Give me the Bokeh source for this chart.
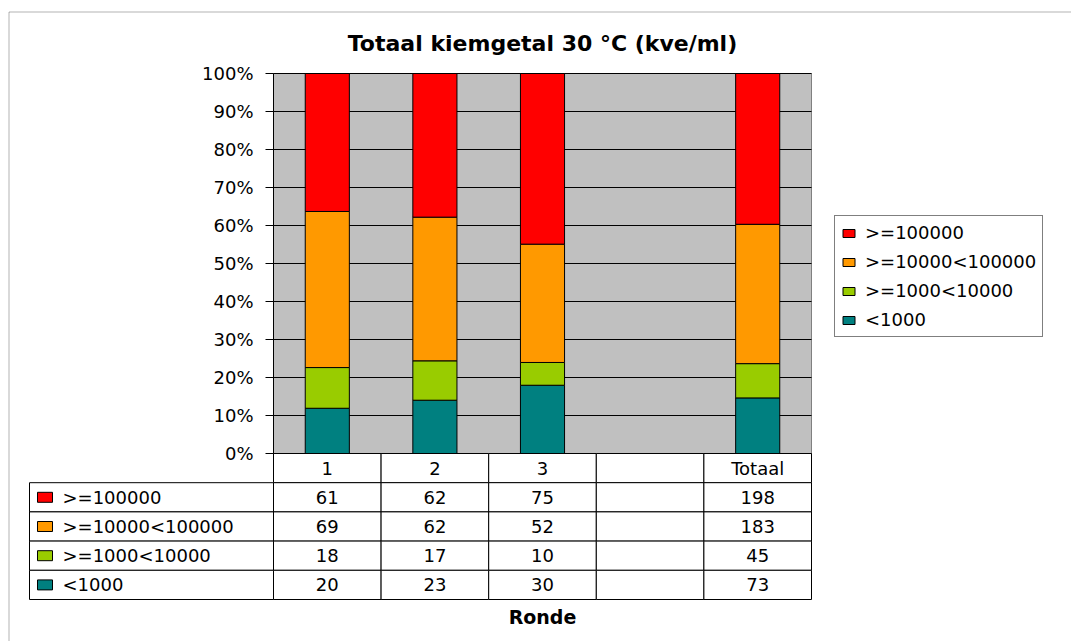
from bokeh.plotting import figure
from bokeh.models import (Range1d, Legend, LegendItem, NumeralTickFormatter, FixedTicker,
                          BoxAnnotation, ColumnDataSource)
from bokeh.embed import file_html
from bokeh.resources import INLINE
from bokeh.core.properties import value

# ---------------- data ----------------
title_text = "Totaal kiemgetal 30 °C (kve/ml)"
x_title = "Ronde"
categories = ["1", "2", "3", "", "Totaal"]
series = [">=100000", ">=10000<100000", ">=1000<10000", "<1000"]
colors = ["#FF0000", "#FF9900", "#99CC00", "#008080"]
v_ge100000 = [61, 62, 75, None, 198]
v_ge10000 = [69, 62, 52, None, 183]
v_ge1000 = [18, 17, 10, None, 45]
v_lt1000 = [20, 23, 30, None, 73]
y_ticks = [0.0, 0.1, 0.2, 0.3, 0.4, 0.5, 0.6, 0.7, 0.8, 0.9, 1.0]

values = [v_ge100000, v_ge10000, v_ge1000, v_lt1000]

# ---------------- layout constants (canvas px) ----------------
FONT = "DejaVu Sans"
FS = "18px"
W, H = 1071, 641
FL, FR, FT, FB = 273, 811, 73, 453          # plot area
NCAT = len(categories)
PXU = (FR - FL) / NCAT                      # px per category unit
PYU = (FB - FT)                             # px per 100%
TL = 29                                     # table left edge
LC = (FL - TL) / PXU                        # label column width (category units)
ROW_H = 29.2
NROWS = 1 + len(series)

x_range = Range1d(-FL / PXU, (W - FL) / PXU)
y_range = Range1d(-(H - FB) / PYU, 1 + FT / PYU)

p = figure(width=W, height=H, x_range=x_range, y_range=y_range,
           output_backend="svg", toolbar_location=None, x_axis_location=None,
           min_border=0)
p.extra_y_ranges = {"table": Range1d((H - FB) / ROW_H, -FB / ROW_H)}
p.grid.visible = False
p.outline_line_color = None
p.background_fill_color = "white"

# plot area background + gridlines
p.quad(left=[0], right=[NCAT], bottom=[0], top=[1], fill_color="#C0C0C0", line_color="#808080")
p.segment(x0=[0] * len(y_ticks), x1=[NCAT] * len(y_ticks), y0=y_ticks, y1=y_ticks,
          line_color="black", line_width=1)

# stacked 100% bars
idx = [i for i in range(NCAT) if v_lt1000[i] is not None]
src = {"x": [i + 0.5 for i in idx]}
for name in series:
    src[name] = []
for i in idx:
    tot = sum(v[i] for v in values)
    for name, vals in zip(series, values):
        src[name].append(vals[i] / tot)
source = ColumnDataSource(src)
rs = p.vbar_stack(list(reversed(series)), x="x", width=0.41, source=source,
                  fill_color=list(reversed(colors)), line_color="black", line_width=1)

# y axis at x = 0
ax = p.yaxis[0]
ax.fixed_location = 0
ax.bounds = (0, 1)
ax.ticker = FixedTicker(ticks=y_ticks)
ax.formatter = NumeralTickFormatter(format="0%")
ax.major_tick_out = 8
ax.major_tick_in = 0
ax.minor_tick_line_color = None
ax.axis_line_color = "black"
ax.major_tick_line_color = "black"
ax.major_label_text_font = FONT
ax.major_label_text_font_size = FS
ax.major_label_text_color = "black"
ax.major_label_standoff = 12

# title
p.text(x=[NCAT / 2], y=[1 + (FT - 43) / PYU], text=[title_text], text_align="center",
       text_baseline="middle", text_font=value(FONT), text_font_size="22px",
       text_font_style="bold", text_color="black")

# legend
legend = Legend(items=[LegendItem(label=s, renderers=[r]) for s, r in zip(series, list(reversed(rs)))],
                location=(834, H - 337), orientation="vertical")
legend.border_line_color = "black"
legend.border_line_width = 1
legend.background_fill_color = "white"
legend.background_fill_alpha = 1
legend.label_text_font = FONT
legend.label_text_font_size = FS
legend.label_text_color = "black"
legend.glyph_width = 15
legend.glyph_height = 10
legend.label_standoff = 9
legend.label_height = 18
legend.spacing = 8
legend.padding = 6
legend.margin = 0
p.add_layout(legend)

# ---------------- data table ----------------
T = "table"
p.quad(left=list(range(NCAT)), right=[i + 1 for i in range(NCAT)],
       top=[0] * NCAT, bottom=[1] * NCAT, fill_color="white", line_color="black", y_range_name=T)
p.text(x=[i + 0.5 for i in range(NCAT)], y=[0.5] * NCAT, text=categories,
       text_align="center", text_baseline="middle", text_font=value(FONT), text_font_size=FS,
       text_color="black", y_range_name=T)

for j, (name, vals, col) in enumerate(zip(series, values, colors)):
    r = j + 1
    p.quad(left=[-LC] + list(range(NCAT)), right=[0] + [i + 1 for i in range(NCAT)],
           top=[r] * (NCAT + 1), bottom=[r + 1] * (NCAT + 1), fill_color="white",
           line_color="black", y_range_name=T)
    p.text(x=[i + 0.5 for i in range(NCAT)], y=[r + 0.5] * NCAT,
           text=["" if v is None else str(v) for v in vals],
           text_align="center", text_baseline="middle", text_font=value(FONT), text_font_size=FS,
           text_color="black", y_range_name=T)
    p.rect(x=[-LC + 15.5 / PXU], y=[r + 0.5], width=15, height=10, width_units="screen",
           height_units="screen", fill_color=col, line_color="black", y_range_name=T)
    p.text(x=[-LC], y=[r + 0.5], text=[name], x_offset=33, text_align="left", text_baseline="middle",
           text_font=value(FONT), text_font_size=FS, text_color="black", y_range_name=T)

p.text(x=[NCAT / 2], y=[NROWS + 17.5 / ROW_H], text=[x_title], text_align="center",
       text_baseline="middle", text_font=value(FONT), text_font_size="19px",
       text_font_style="bold", text_color="black", y_range_name=T)

# outer chart border
p.add_layout(BoxAnnotation(left=8.5, right=5000, top=11.5, bottom=5000,
                           left_units="canvas", right_units="canvas", top_units="canvas",
                           bottom_units="canvas", fill_alpha=0, line_color="black", line_width=1))

open("out.html", "w").write(file_html(p, INLINE))
